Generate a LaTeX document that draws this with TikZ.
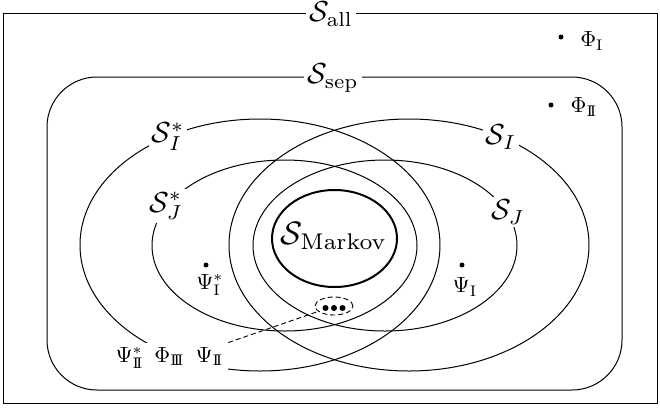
\documentclass[tikz,border=0pt]{standalone}
\usepackage{amsmath}
\usetikzlibrary{shapes.geometric}
\newcommand{\rI}{\mathrm{I}}
\newcommand{\rII}{\mathrm{I\!I}}
\newcommand{\rIII}{\mathrm{I\!I\!I}}
\begin{document}
\begin{tikzpicture}[x=0.5pt,y=-0.5pt,
  setlabel/.style={fill=white, inner sep=1pt, scale=1.45},
  ptlabel/.style={inner sep=1pt, scale=1.1},
  pt/.style={circle, fill, inner sep=0pt, minimum size=2.5pt},
  bigdot/.style={circle, fill, inner sep=0pt, minimum size=3pt},
  thinline/.style={line width=0.5pt},
  shortdash/.style={dash pattern=on 2.5pt off 1.5pt, line width=0.45pt}]
\useasboundingbox (0,0) rectangle (660,409);
% outer sets
\draw[thinline] (3,13) rectangle (657,403);
\draw[thinline, rounded corners=25pt] (47,77) rectangle (622,390);
% ellipses
\draw[thinline] (260,245) ellipse [x radius=180, y radius=126];
\draw[thinline] (409,245) ellipse [x radius=180, y radius=126];
\draw[thinline] (284.5,245.5) ellipse [x radius=132.5, y radius=85.5];
\draw[thinline] (385,245.5) ellipse [x radius=132, y radius=85.5];
\draw[line width=1pt] (334.5,238.5) ellipse [x radius=62.5, y radius=48.5];
% set labels
\node[setlabel] (sall) at (331,14) {$\mathcal{S}_{\mathrm{all}}$};
\node[setlabel] (ssep) at (333,78) {$\mathcal{S}_{\mathrm{sep}}$};
\node[setlabel] (sIs) at (168,137) {$\mathcal{S}_I^*$};
\node[setlabel] (sI) at (501,137) {$\mathcal{S}_I$};
\node[setlabel] (sJs) at (166,206) {$\mathcal{S}_J^*$};
\node[setlabel] (sJ) at (508,212) {$\mathcal{S}_J$};
\node[scale=1.62] (smarkov) at (334,236) {$\mathcal{S}_{\mathrm{Markov}}$};
% points
\node[pt] (phiI) at (561,37) {};
\node[ptlabel] (phiIl) at (592,41) {$\Phi_{\rI}$};
\node[pt] (phiII) at (551,105) {};
\node[ptlabel] (phiIIl) at (584,107) {$\Phi_{\rII}$};
\node[pt] (psiIs) at (206,265) {};
\node[ptlabel] (psiIsl) at (210,285) {$\Psi^*_{\rI}$};
\node[pt] (psiI) at (462,265) {};
\node[ptlabel] (psiIl) at (465,287) {$\Psi_{\rI}$};
% three dots
\node[ellipse, draw, shortdash, minimum width=19pt, minimum height=9pt, inner sep=0pt] (dots) at (334,306) {};
\node[bigdot] (d1) at (325.5,308) {};
\node[bigdot] (d2) at (334,308) {};
\node[bigdot] (d3) at (342.5,308) {};
% bottom labels
\node[ptlabel, fill=white, inner sep=2pt] (bottom) at (169.5,358) {$\Psi^*_{\rII}$\hspace{5pt}$\Phi_{\rIII}$\hspace{5pt}$\Psi_{\rII}$};
\draw[shortdash] (bottom.north east) -- (dots);
\end{tikzpicture}
\end{document}
